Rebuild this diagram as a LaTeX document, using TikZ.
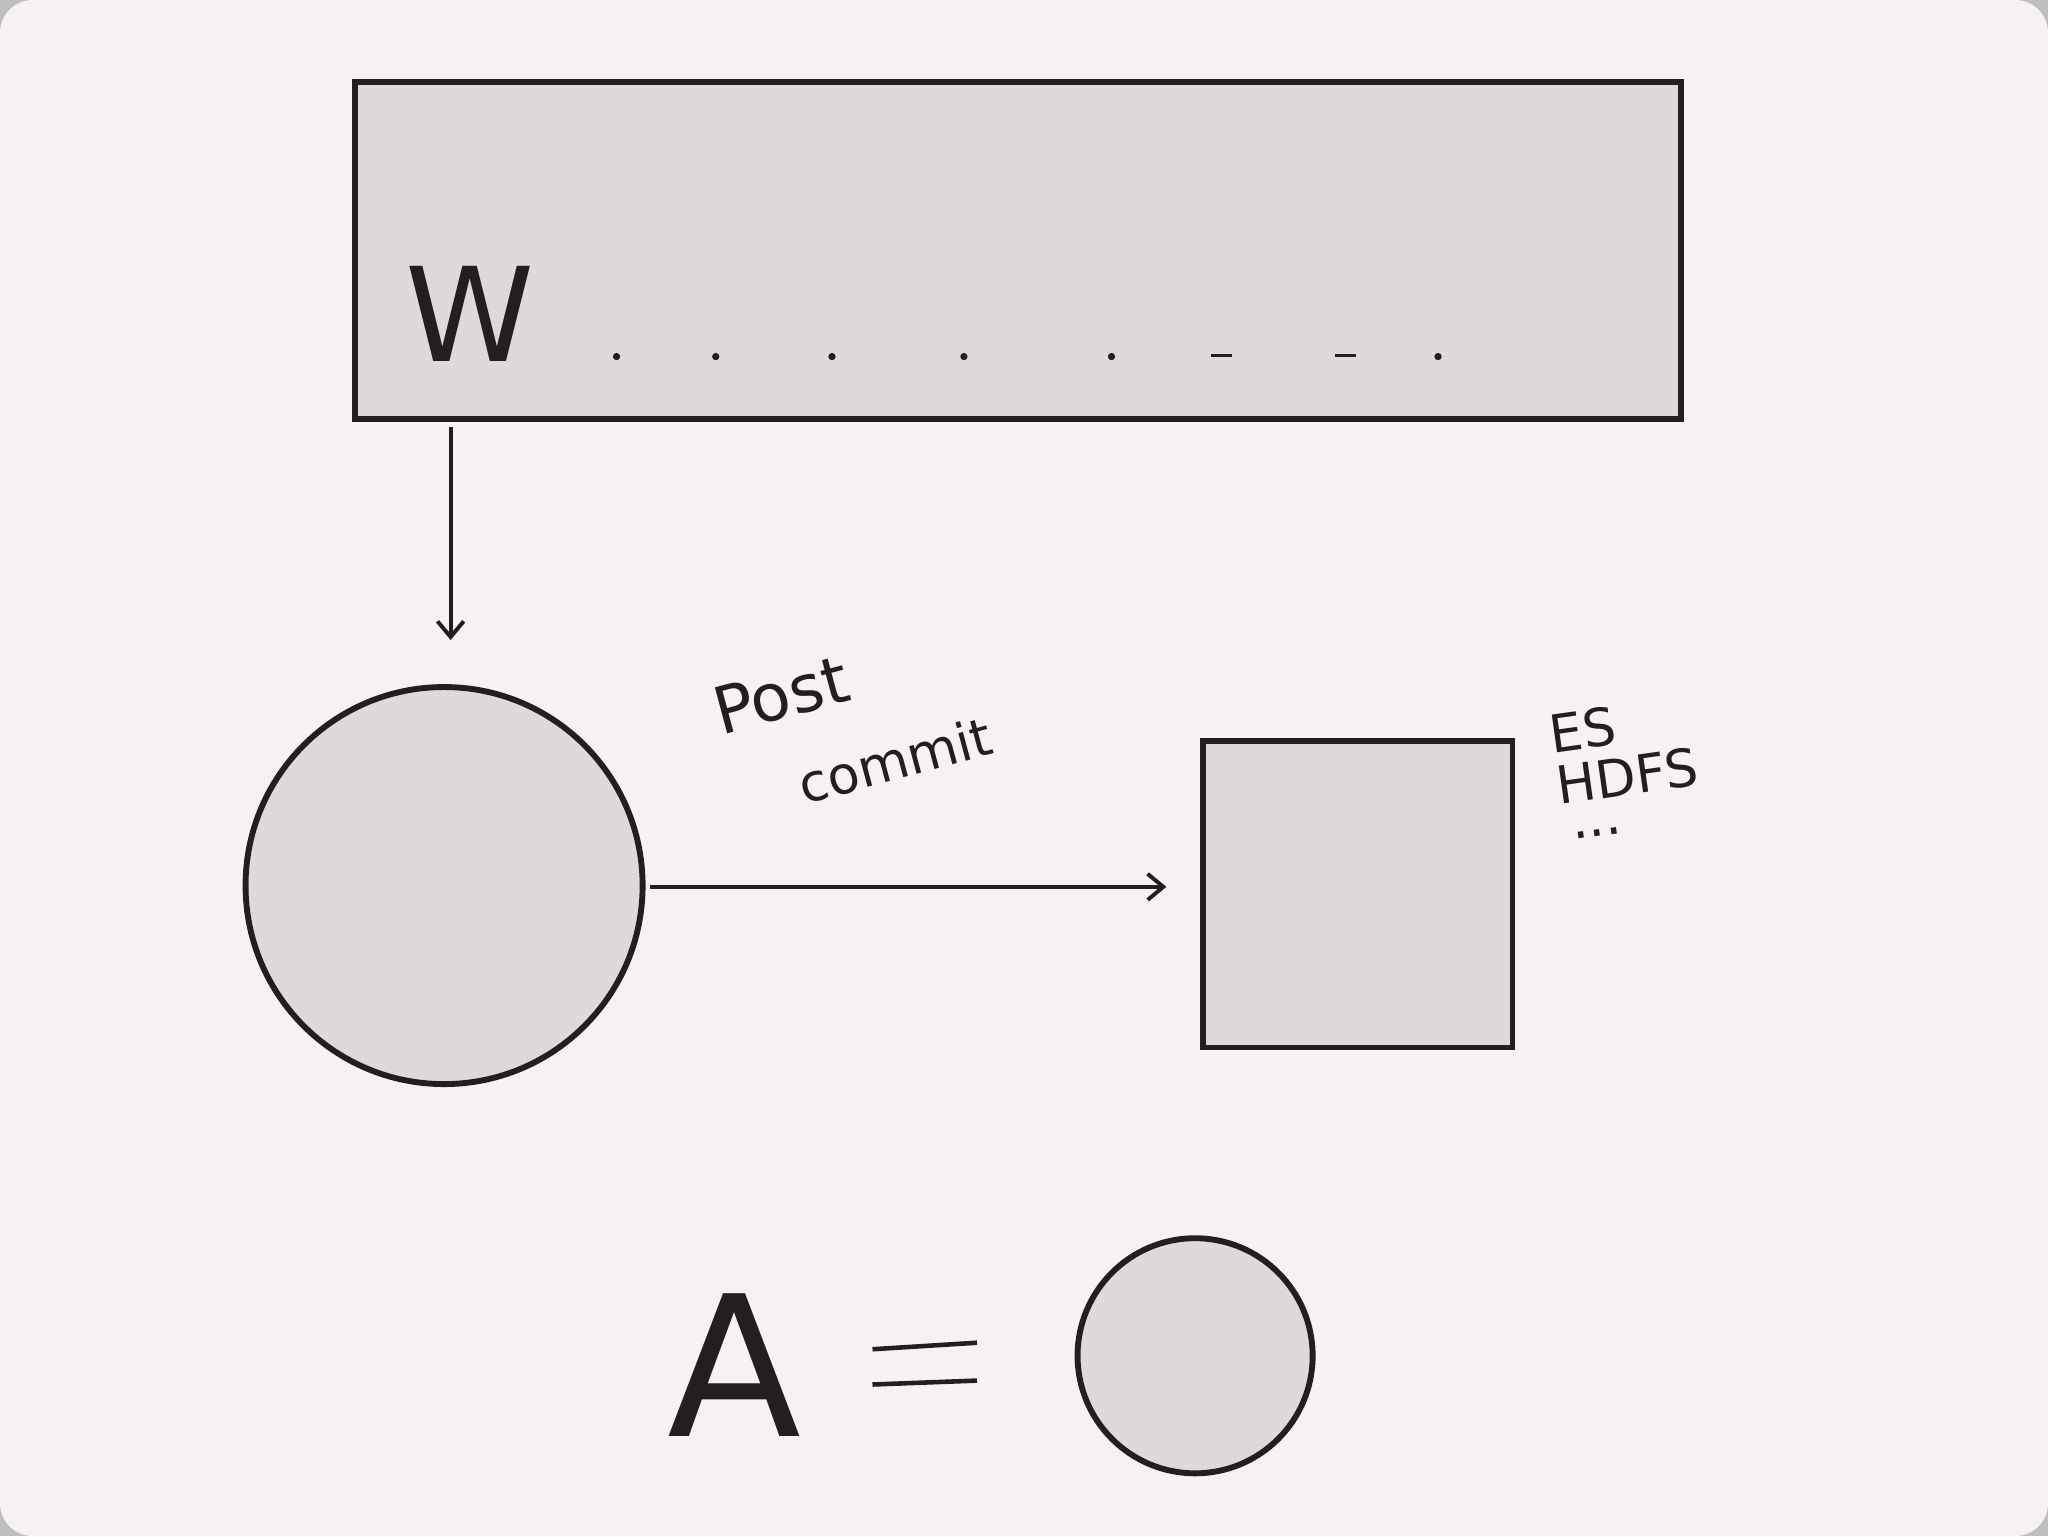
\documentclass[tikz,border=0pt]{standalone}
\usepackage{fontspec}
\setmainfont{DejaVu Sans}
\usetikzlibrary{arrows.meta}
\definecolor{bg}{HTML}{F6F2F1}
\definecolor{sh}{HTML}{DFDADA}
\definecolor{ink}{HTML}{231F20}
\begin{document}
\begin{tikzpicture}[x=1pt,y=-1pt,
  shp/.style={draw=ink,fill=sh,line width=4.5pt},
  arr/.style={draw=ink,line width=3pt,-{Straight Barb[length=12pt,width=20pt,line width=3pt]}},
  hw/.style={text=ink,font=\fontsize{#1}{#1}\selectfont},
]
\useasboundingbox (0,0) rectangle (1568,1176);
\fill[black!25] (0,0) rectangle (1568,1176);
\fill[bg,rounded corners=25pt] (0,0) rectangle (1568,1176);
\node[shp,minimum width=1015pt,minimum height=258pt,inner sep=0pt] (top) at (779.5,192) {};
\node[hw=100] (w) at (360,240) {W};
\foreach \x in {472,548,637,738,851,1101} \fill[ink] (\x,273) circle (2.8pt);
\foreach \x in {935,1030} \draw[ink,line width=2.5pt] (\x-8,272)--(\x+8,272);
\coordinate (a1) at (345,327);
\node[shp,circle,minimum size=304pt,inner sep=0pt] (c) at (340,678) {};
\draw[arr] (a1) -- (345,490);
\node[shp,minimum width=237pt,minimum height=235pt,inner sep=0pt] (sq) at (1039.5,684.5) {};
\coordinate (h1) at (498,679);
\draw[arr] (h1) -- (893,679);
\node[hw=50,rotate=15] (post) at (598,532) {Post};
\node[hw=40,rotate=15] (commit) at (685,582) {commit};
\node[hw=40,align=left,rotate=8] (es) at (1245,588) {ES\\HDFS\\[-12pt]\,...};
\node[hw=150] (A) at (562,1045) {A};
\draw[ink,line width=3.5pt] (668,1033)--(748,1028) (668,1060)--(748,1057);
\node[shp,circle,minimum size=180pt,inner sep=0pt] (c2) at (915,1038) {};
\end{tikzpicture}
\end{document}
